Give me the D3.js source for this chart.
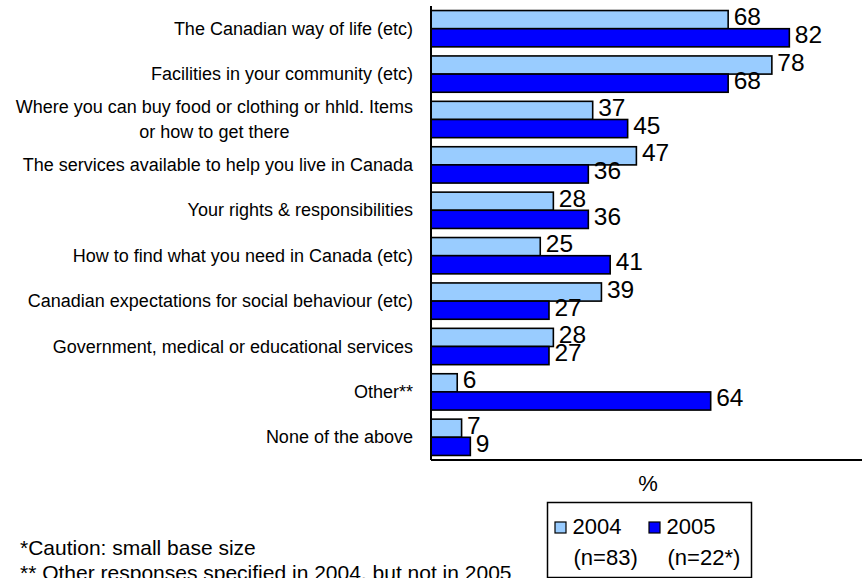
<!DOCTYPE html>
<html>
<head>
<meta charset="utf-8">
<script src="https://cdn.jsdelivr.net/npm/d3@7"></script>
<style>
  html, body { margin: 0; padding: 0; background: #fff; }
  svg { display: block; font-family: Arial, "Liberation Sans", sans-serif; }
</style>
</head>
<body>
<svg id="chart" width="862" height="578"></svg>
<script>
// Survey responses by topic, 2004 vs 2005 (percent)
const categories = [
  ["The Canadian way of life (etc)"],
  ["Facilities in your community (etc)"],
  ["Where you can buy food or clothing or hhld. Items", "or how to get there"],
  ["The services available to help you live in Canada"],
  ["Your rights & responsibilities"],
  ["How to find what you need in Canada (etc)"],
  ["Canadian expectations for social behaviour (etc)"],
  ["Government, medical or educational services"],
  ["Other**"],
  ["None of the above"]
];
const values2004 = [68, 78, 37, 47, 28, 25, 39, 28, 6, 7];
const values2005 = [82, 68, 45, 36, 36, 41, 27, 27, 64, 9];
const seriesNames = ["2004", "2005"];
const seriesNotes = ["(n=83)", "(n=22*)"];
const seriesColors = ["#99CCFF", "#0000FF"];
const axisTitle = "%";
const footnotes = [
  "*Caution: small base size",
  "** Other responses specified in 2004, but not in 2005"
];

const svg = d3.select("#chart");
const x0 = 431, yTop = 6, yBottom = 460;

const x = d3.scaleLinear().domain([0, 100]).range([x0, x0 + 437]);
const y = d3.scaleBand()
  .domain(d3.range(categories.length))
  .range([yTop, yBottom])
  .paddingInner(0.2)
  .paddingOuter(0.1);
const ySub = d3.scaleBand().domain([0, 1]).range([0, y.bandwidth()]);

const rows = categories.map((c, i) => ({ i, vals: [values2004[i], values2005[i]] }));

// Bars
const g = svg.append("g");
rows.forEach(r => {
  r.vals.forEach((v, s) => {
    g.append("rect")
      .attr("x", x(0))
      .attr("y", y(r.i) + ySub(s))
      .attr("width", x(v) - x(0))
      .attr("height", ySub.bandwidth())
      .attr("fill", seriesColors[s])
      .attr("stroke", "#000")
      .attr("stroke-width", 1.6);
  });
});

// Value labels
rows.forEach(r => {
  r.vals.forEach((v, s) => {
    const cy = y(r.i) + ySub(s) + ySub.bandwidth() / 2;
    svg.append("text")
      .attr("x", x(v) + 5.5)
      .attr("y", cy + 5.5)
      .attr("font-size", 24.5)
      .attr("fill", "#000")
      .text(v);
  });
});

// Axes lines
svg.append("line")
  .attr("x1", x0).attr("x2", x0)
  .attr("y1", yTop).attr("y2", yBottom)
  .attr("stroke", "#000").attr("stroke-width", 2);
svg.append("line")
  .attr("x1", x0).attr("x2", 862)
  .attr("y1", yBottom).attr("y2", yBottom)
  .attr("stroke", "#000").attr("stroke-width", 2);

// Category labels (multi-line labels are centred on their widest line)
const labelRight = 413;
categories.forEach((lines, i) => {
  const cy = y(i) + y.bandwidth() / 2;
  const lh = 25;
  const t = svg.append("text")
    .attr("font-size", 18)
    .attr("fill", "#000");
  const spans = lines.map((ln, k) => t.append("tspan")
    .attr("y", cy + 6 + (k - (lines.length - 1) / 2) * lh)
    .text(ln));
  if (lines.length === 1) {
    t.attr("text-anchor", "end");
    spans[0].attr("x", labelRight);
  } else {
    const widths = spans.map(sp => sp.node().getComputedTextLength());
    const cx = labelRight - d3.max(widths) / 2;
    t.attr("text-anchor", "middle");
    spans.forEach(sp => sp.attr("x", cx));
  }
});

// Axis title
svg.append("text")
  .attr("x", 648).attr("y", 491)
  .attr("text-anchor", "middle")
  .attr("font-size", 22)
  .text(axisTitle);

// Legend
const lg = svg.append("g");
lg.append("rect")
  .attr("x", 547.5).attr("y", 502.5)
  .attr("width", 204).attr("height", 75)
  .attr("fill", "#fff").attr("stroke", "#000").attr("stroke-width", 1.5);
const legendX = [555, 649];
seriesNames.forEach((name, s) => {
  lg.append("rect")
    .attr("x", legendX[s]).attr("y", 522)
    .attr("width", 11).attr("height", 11)
    .attr("fill", seriesColors[s]).attr("stroke", "#000").attr("stroke-width", 1.2);
  lg.append("text")
    .attr("x", legendX[s] + 17.5).attr("y", 533.5)
    .attr("font-size", 22)
    .text(name);
  lg.append("text")
    .attr("x", legendX[s] + 18.5).attr("y", 565)
    .attr("font-size", 22)
    .text(seriesNotes[s]);
});

// Footnotes
footnotes.forEach((f, k) => {
  svg.append("text")
    .attr("x", 20).attr("y", 555 + k * 25)
    .attr("font-size", 21)
    .text(f);
});
</script>
</body>
</html>
